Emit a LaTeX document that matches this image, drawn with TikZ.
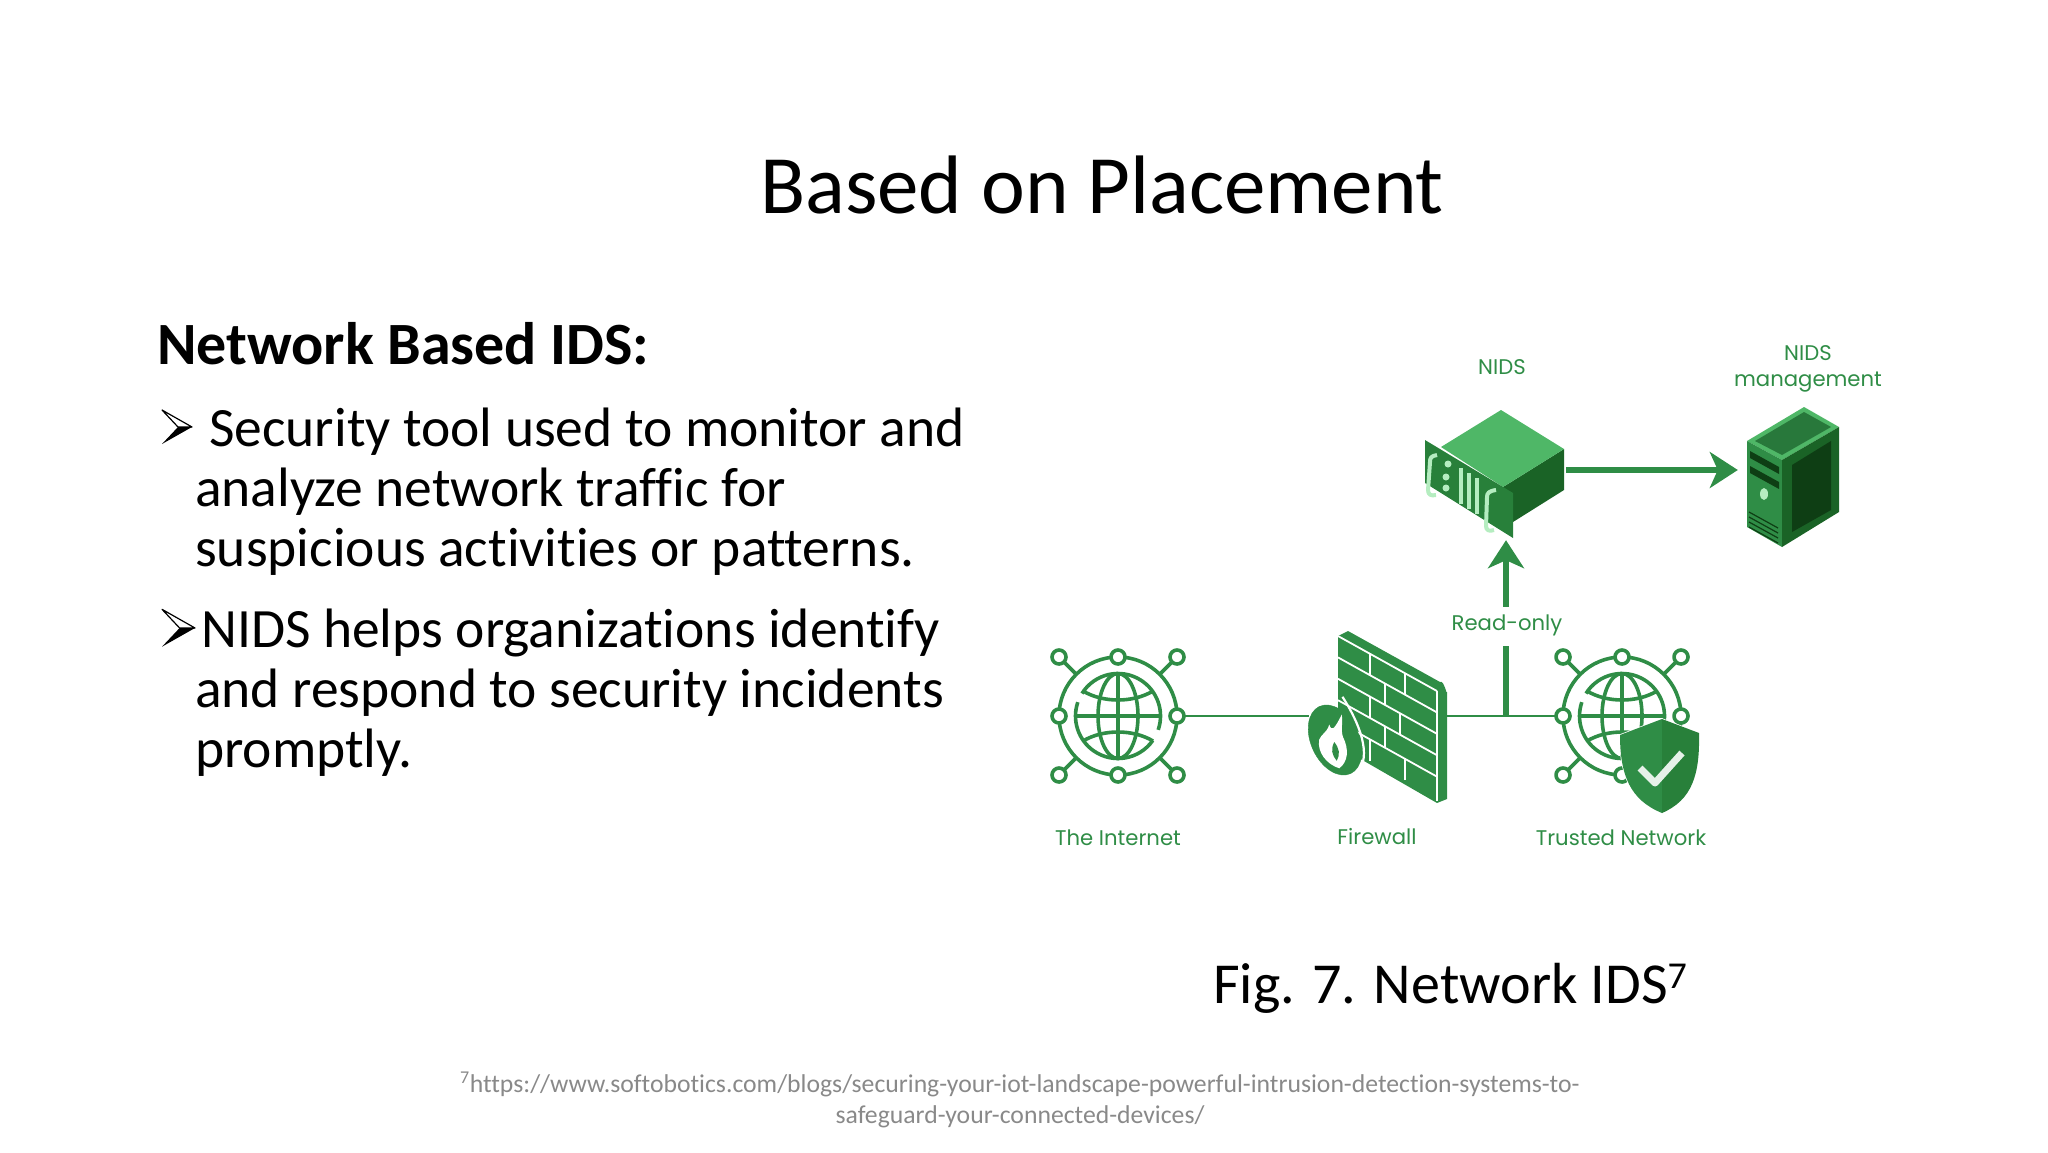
\documentclass[tikz,border=0pt]{standalone}
\usepackage{fontspec}
\setmainfont[Ligatures=NoCommon]{Carlito}
\newfontfamily\labfont{Poppins}
\usetikzlibrary{arrows.meta}
\definecolor{gfg}{HTML}{2F8D46}
\definecolor{gfgdark}{HTML}{28803A}
\definecolor{gfgdeep}{HTML}{1A6326}
\definecolor{gfgtop}{HTML}{4FB767}
\definecolor{gfgink}{HTML}{0E3E14}
\definecolor{gfglight}{HTML}{B5EDC0}
\definecolor{notegray}{HTML}{898989}
\tikzset{
	glo/.style={draw=gfg,line width=3.6pt},
	hub/.style={circle,minimum size=133pt,inner sep=0pt},
	zone/.style={inner sep=0pt},
	link/.style={draw=gfg,line width=2.4pt},
	flow/.style={draw=gfg,line width=6pt},
	head/.style={-{Stealth[length=28pt,width=36pt,inset=8pt]}},
	lab/.style={text=gfg,font=\labfont\fontsize{21.2}{26}\selectfont,inner sep=0pt,align=center},
	body/.style={anchor=north west,inner sep=0pt,align=left,font=\fontsize{55.5}{60}\selectfont},
	inet/.pic={
		\draw[glo] (0,0) circle (59);
		\draw[glo] (35:42.5) arc(35:199:42.5);
		\draw[glo] (212:42.5) arc(212:379:42.5);
		\draw[glo] (0,0) ellipse (20 and 42.5);
		\draw[glo] (0,-42.5)--(0,42.5) (-42.5,0)--(42.5,0);
		\draw[glo] (-35,-25) .. controls (-15,-13) and (15,-13) .. (35,-25);
		\draw[glo] (-35,25) .. controls (-15,13) and (15,13) .. (35,25);
		\foreach \a in {45,135,225,315}
			\draw[glo] (\a:59)--(\a:78);
		\foreach \x/\y in {0/-59,0/59,-59/0,59/0,-59/-59,59/-59,-59/59,59/59}
			\draw[glo,fill=white] (\x,\y) circle (7);
	},
	bullet/.pic={
		\draw[black,line width=1.2pt,fill=white] (0,-17)--(30,0)--(16,0)--cycle;
		\fill[black] (0,17)--(30,0)--(16,0)--cycle;
	}
}
\begin{document}
\begin{tikzpicture}[line join=round,x=1pt,y=-1pt]
	\useasboundingbox (0,0) rectangle (2048,1152);

	\node[anchor=base,inner sep=0pt,font=\fontsize{83}{90}\selectfont] (title) at (1102,213) {Based on Placement};
	\node[anchor=base west,inner sep=0pt,font=\bfseries\fontsize{60}{66}\selectfont] (head) at (157,364) {Network Based IDS:};
	\path (162,427)pic{bullet} (162,628)pic[scale=1.1]{bullet};
	\node[body] (first) at (195,408) {\hspace*{14pt}Security tool used to monitor and\\analyze network traffic for\\suspicious activities or patterns.};
	\node[body] (second) at (195,609) {\hspace*{6pt}NIDS helps organizations identify\\and respond to security incidents\\promptly.};
	\node[anchor=base west,inner sep=0pt,font=\fontsize{58}{66}\selectfont] (cap) at (1213,1003) {Fig. 7. Network IDS\raisebox{15pt}{\fontsize{38}{40}\selectfont 7}};
	\node[inner sep=0pt,align=center,text=notegray,font=\fontsize{25.7}{31}\selectfont] (note) at (1020,1100) {\textsuperscript{7}https://www.softobotics.com/blogs/securing-your-iot-landscape-powerful-intrusion-detection-systems-to-\\safeguard-your-connected-devices/};

	% anchors of the drawing
	\node[hub] (inet) at (1118,716) {};
	\node[hub] (trust) at (1622,716) {};
	\node[zone,minimum width=138pt,minimum height=170pt] (wall) at (1378,716) {};
	\node[zone,minimum width=142pt,minimum height=140pt] (nids) at (1495,470) {};
	\node[zone,minimum width=108pt,minimum height=140pt] (mgmt) at (1792,470) {};
	\coordinate (tap) at (1506,716);
	\node[lab,minimum height=36pt] (ro) at (1507,625) {Read-only};

	\draw[link] (inet.east)--(wall.west);
	\draw[link] (wall.east)--(trust.west);
	\draw[flow] (tap)--([yshift=-3pt]tap |- ro.south);
	\draw[flow,head] (tap |- ro.north)--(tap |- nids.south);
	\draw[flow,head] (nids.east)--(mgmt.west);

	\path (inet)pic{inet} (trust)pic{inet};

	% firewall
	\fill[gfg] (1338,636)--(1348,631)--(1440,682) to[out=30,in=-90] (1447,692)--(1447,799)--(1437,803)--(1338,746)--cycle;
	\begin{scope}[shift={(1338,636)},yslant=-.556]
		\foreach \r in {0,21.4,42.8,64.2,85.6}
			\draw[white,line width=1.8pt] (0,\r)--(99,\r);
		\draw[white,line width=1.2pt] (99,0)--(99,110);
		\foreach \x/\r in {32/0,67/0,47/21.4,32/42.8,62/42.8,47/64.2,32/85.6,67/85.6}
			\draw[white,line width=1.8pt] (\x,\r)--(\x,\r+21.4);
	\end{scope}
	\draw[gfg,fill=gfg] (1335,740) ellipse[x radius=37,y radius=24,rotate=-65];
	\begin{scope}[shift={(1335,740)},rotate=-65]
		\draw[white,line width=2.2pt] (-36,-25) .. controls (-15,-28) and (25,-30) .. (38,-9);
	\end{scope}
	\begin{scope}[shift={(1333,742)},scale=1.25,shift={(-1333,-742)}]
		\fill[white] (1340,720) .. controls (1341,728) and (1339,732) .. (1341,738) .. controls (1346,748) and (1345,758) .. (1338,763) .. controls (1328,760) and (1320,750) .. (1322,740) .. controls (1324,735) and (1328,735) .. (1330,728) .. controls (1332,734) and (1334,732) .. (1340,720) -- cycle;
		\fill[gfg] (1334,742) .. controls (1331,748) and (1332,752) .. (1336,757) .. controls (1339,752) and (1338,747) .. (1334,742) -- cycle;
	\end{scope}

	% shield
	\draw[white,line width=1.5pt] (1662,719)--(1620,735) .. controls (1620,775) and (1630,800) .. (1662,813) .. controls (1692,800) and (1700,775) .. (1699,733)--cycle;
	\fill[gfg] (1662,719)--(1620,735) .. controls (1620,775) and (1630,800) .. (1662,813)--cycle;
	\fill[gfgdark] (1662,719)--(1699,733) .. controls (1700,775) and (1692,800) .. (1662,813)--cycle;
	\draw[white!88!gfg,line width=7pt] (1640,768)--(1655,783)--(1682,753);

	% nids box
	\fill[gfgdeep] (1503,487)--(1564,449)--(1564,490)--(1513,522)--(1503,522)--cycle;
	\fill[gfgtop] (1501,410)--(1564,449)--(1503,487)--(1441,447)--cycle;
	\fill[gfgdark] (1425,440)--(1513,493)--(1513,538)--(1425,483)--cycle;
	\draw[gfglight,line width=4pt] (1437,455) .. controls (1431,456) and (1430,458) .. (1430,462)--(1428,490) .. controls (1428,495) and (1431,496) .. (1436,495);
	\draw[gfglight,line width=4pt] (1496,490) .. controls (1489,491) and (1487,493) .. (1487,497)--(1486,526) .. controls (1486,530) and (1489,532) .. (1494,530);
	\foreach \x/\y in {1448/464,1446/477,1446/488}
		\fill[gfglight] (\x,\y) circle (3.5);
	\foreach \x/\y in {1461/468,1469/473,1477/478}
		\draw[gfglight,line width=4pt] (\x,\y)--(\x,\y+36);

	% management server
	\fill[gfgtop] (1804,407)--(1839,427)--(1782,460)--(1747,441)--cycle;
	\fill[gfg!85!black] (1804,412)--(1831,427)--(1782,455)--(1755,441)--cycle;
	\fill[gfg] (1747,441)--(1782,460)--(1782,547)--(1747,527)--cycle;
	\fill[gfgdeep] (1782,460)--(1839,427)--(1839,512)--(1782,547)--cycle;
	\fill[gfgink] (1792,465)--(1831,441)--(1831,510)--(1792,532)--cycle;
	\fill[gfgink] (1750,451)--(1779,467)--(1779,474)--(1750,458)--cycle;
	\fill[gfgink] (1750,466)--(1779,482)--(1779,489)--(1750,473)--cycle;
	\fill[gfglight] (1764,494) ellipse (4 and 6);
	\foreach \d in {0,5,10,15}
		\draw[gfgink,line width=1.2pt] (1749,512+\d)--(1778,528+\d);

	\node[lab] (lblinet) at (1118,838) {The Internet};
	\node[lab] (lblwall) at (1377,837) {Firewall};
	\node[lab] (lbltrust) at (1621,838) {Trusted Network};
	\node[lab] (lblnids) at (1502,367) {NIDS};
	\node[lab] (lblmgmt) at (1808,369) {NIDS\\management};
\end{tikzpicture}
\end{document}
